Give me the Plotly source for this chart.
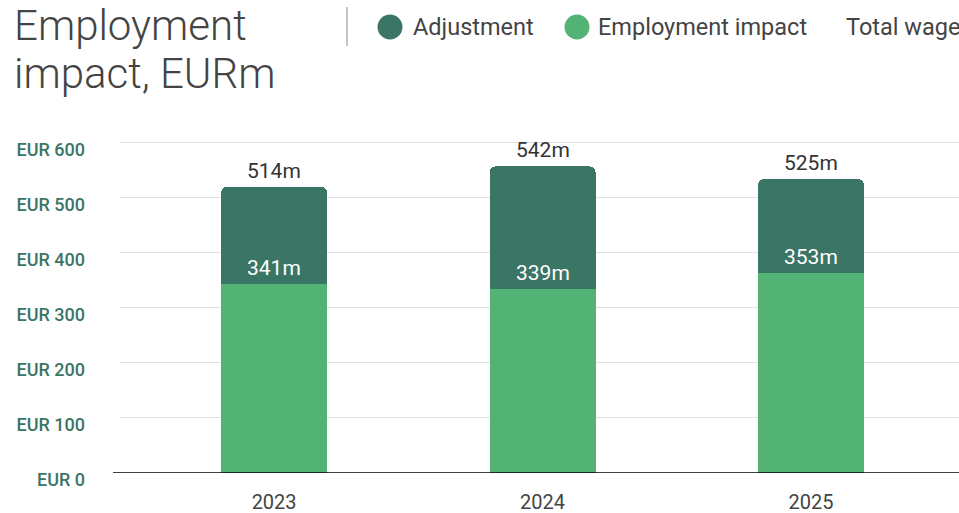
import plotly.graph_objects as go

# data
years = ["2023", "2024", "2025"]
employment = [343, 335, 364]        # light green segment
adjustment = [177, 222, 170]        # dark green segment on top
employment_labels = ["341m", "339m", "353m"]
total_labels = ["514m", "542m", "525m"]
ytick_vals = [0, 100, 200, 300, 400, 500, 600]
ytick_text = ["EUR %d" % v for v in ytick_vals]

DARK = "#3A7566"
LIGHT = "#52B375"
W, H = 959, 513
ML, MR, MT, MB = 120, 0, 140, 40
PW, PH = W - ML - MR, H - MT - MB


def px_x(p):
    return (p - ML) / PW


def px_y(p):
    return (H - MB - p) / PH


totals = [e + a for e, a in zip(employment, adjustment)]

fig = go.Figure()
fig.add_trace(go.Bar(x=years, y=employment, marker_color=LIGHT, marker_line_width=0,
                     name="Employment impact", width=0.395, showlegend=False, hoverinfo="skip"))
fig.add_trace(go.Bar(x=years, y=adjustment, marker_color=DARK, marker_line_width=0,
                     name="Adjustment", width=0.395, showlegend=False, hoverinfo="skip"))

annotations = []
for i, (e, t, el, tl) in enumerate(zip(employment, totals, employment_labels, total_labels)):
    annotations.append(dict(x=i, y=t, text=tl, showarrow=False, yanchor="bottom", yshift=2,
                            font=dict(family="Roboto", size=21, color="#333333")))
    annotations.append(dict(x=i, y=e, text=el, showarrow=False, yanchor="bottom", yshift=2,
                            font=dict(family="Roboto", size=21, color="#FFFFFF")))

# title, two lines
title_font = dict(family="Roboto", size=42, color="#444444", weight=300)
annotations.append(dict(xref="paper", yref="paper", x=px_x(12), y=px_y(-1), xanchor="left",
                        yanchor="top", text="Employment", showarrow=False, font=title_font))
annotations.append(dict(xref="paper", yref="paper", x=px_x(12), y=px_y(47), xanchor="left",
                        yanchor="top", text="impact, EURm", showarrow=False, font=title_font))

# legend
legend_items = [("Adjustment", DARK, 390, 411), ("Employment impact", LIGHT, 577, 596),
                ("Total wage", None, None, 844)]
shapes = []
for name, col, cx, tx in legend_items:
    annotations.append(dict(xref="paper", yref="paper", x=px_x(tx), y=px_y(27), xanchor="left",
                            yanchor="middle", text=name, showarrow=False,
                            font=dict(family="Roboto", size=23.5, color="#444444")))
    if col:
        shapes.append(dict(type="circle", xref="paper", yref="paper", xsizemode="pixel",
                           ysizemode="pixel", xanchor=px_x(cx), yanchor=px_y(27),
                           x0=-12.5, x1=12.5, y0=-12.5, y1=12.5, fillcolor=col, line_width=0))
shapes.append(dict(type="line", xref="paper", yref="paper", x0=px_x(347), x1=px_x(347),
                   y0=px_y(7), y1=px_y(46), line=dict(color="#888888", width=1)))
# baseline
shapes.append(dict(type="line", xref="paper", yref="y", x0=px_x(113), x1=1, y0=0, y1=0,
                   line=dict(color="#000000", width=1.5)))

fig.update_layout(
    width=W, height=H,
    margin=dict(l=ML, r=MR, t=MT, b=MB),
    barmode="stack",
    barcornerradius=6,
    plot_bgcolor="white",
    paper_bgcolor="white",
    annotations=annotations,
    shapes=shapes,
    showlegend=False,
    xaxis=dict(type="category", range=[-0.574, 2.551], showgrid=False, showline=False,
               zeroline=False, tickfont=dict(family="Roboto", size=20, color="#444444"),
               ticklabelstandoff=15),
    yaxis=dict(range=[0, 605], tickvals=ytick_vals, ticktext=ytick_text,
               showgrid=True, gridcolor="#E0E0E0", gridwidth=1, zeroline=False,
               tickfont=dict(family="Roboto", size=18, color=DARK, weight=500),
               ticklabelstandoff=34, ticklabelshift=7),
)

fig.write_html("out.html", config={"displayModeBar": False},
               post_script="document.body.style.margin='0';")
